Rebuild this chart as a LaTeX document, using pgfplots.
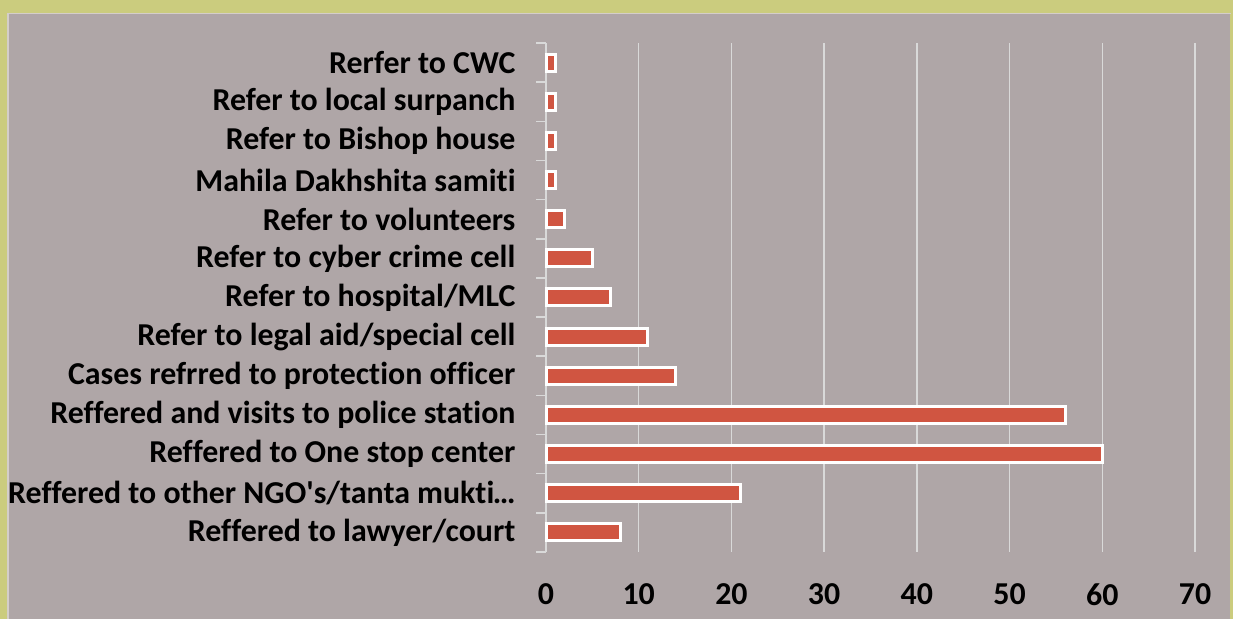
\documentclass[border=0pt]{standalone}
\usepackage{pgfplots}
\pgfplotsset{compat=1.18}
\usepackage{fontspec}
\setmainfont{Carlito}[Ligatures={TeX,NoCommon}]
\definecolor{olivebg}{RGB}{203,204,126}
\definecolor{greybg}{RGB}{175,166,167}
\definecolor{innerline}{RGB}{212,206,202}
\definecolor{gridc}{RGB}{217,217,217}
\definecolor{barc}{RGB}{208,85,65}
\begin{document}
\begin{tikzpicture}[x=1bp,y=1bp]
\fill[olivebg] (0,0) rectangle (1233,619);
\fill[greybg] (7,0) rectangle (1230,606);
\draw[innerline, line width=1.5bp] (7.75,-1) -- (7.75,605.25) -- (1231,605.25);
\begin{axis}[
  at={(546bp,67bp)}, anchor=south west,
  scale only axis, width=649bp, height=509bp,
  xmin=0, xmax=70, ymin=-0.5, ymax=12.5,
  axis x line*=bottom, axis y line*=left,
  x axis line style={draw=none},
  y axis line style={draw=gridc, line width=1.5bp},
  xtick={0,10,...,70},
  xmajorgrids, grid style={draw=gridc, line width=1.5bp},
  major tick length=0pt,
  ytick={0,...,12},
  yticklabels={Reffered to lawyer/court, {Reffered to other NGO\textquotesingle s/tanta mukti\kern-1.5bp…}, Reffered to One stop center, Reffered and visits to police station, Cases refrred to protection officer, Refer to legal aid/special cell, Refer to hospital/MLC, Refer to cyber crime cell, Refer to volunteers, Mahila Dakhshita samiti, Refer to Bishop house, Refer to local surpanch, Rerfer to CWC},
  extra y ticks={-0.5,0.5,...,12.5},
  extra y tick labels={},
  extra y tick style={major tick length=10bp, tick align=outside, grid=none, tick style={draw=gridc, line width=1.5bp}},
  ticklabel style={font=\bfseries\fontsize{32}{36}\selectfont, text=black},
  yticklabel style={xshift=-27bp},
  xticklabel style={yshift=-28bp},
  /pgf/number format/assume math mode=true,
  clip=false,
]
\addplot[xbar, bar width=17bp, fill=barc, draw=white, line width=3bp] coordinates {
(8,0) (21,1) (60,2) (56,3) (14,4) (11,5) (7,6) (5,7) (2,8) (1,9) (1,10) (1,11) (1,12)
};
\end{axis}
\pgfresetboundingbox
\useasboundingbox (0,0) rectangle (1233,619);
\end{tikzpicture}
\end{document}
